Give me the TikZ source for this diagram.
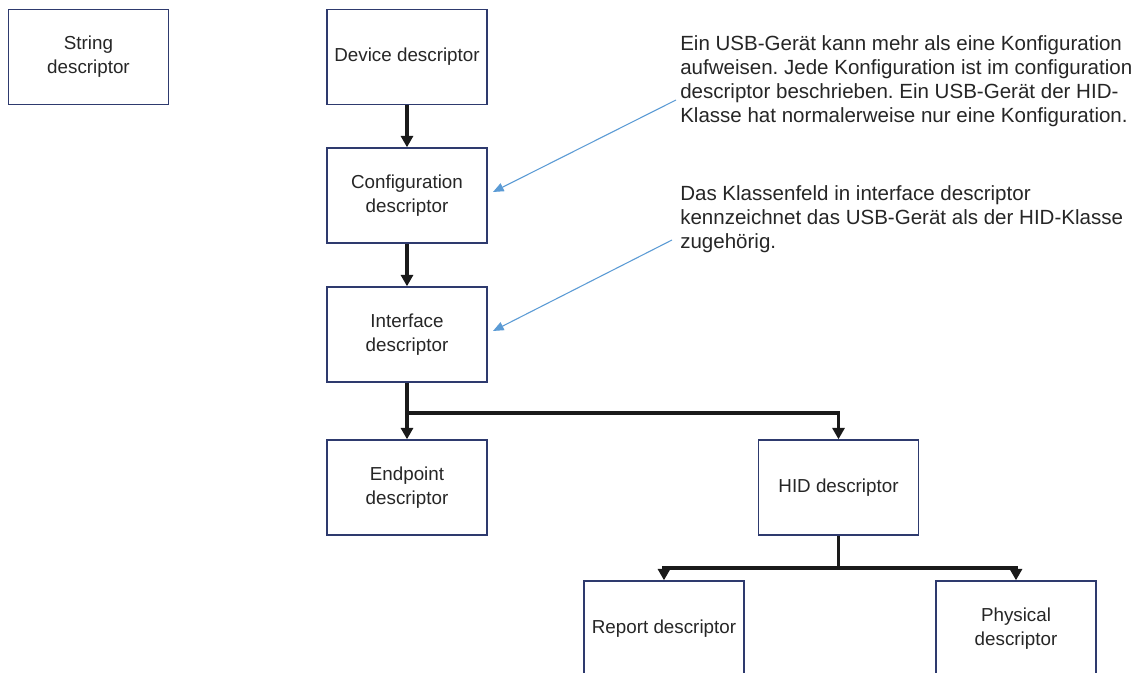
\documentclass[tikz,border=0pt]{standalone}
\usepackage{fontspec}
\setmainfont{Liberation Sans}
\usetikzlibrary{arrows.meta}
\definecolor{boxline}{HTML}{2E3A6E}
\definecolor{txt}{HTML}{262626}
\definecolor{note}{HTML}{5B9BD5}
\definecolor{conncol}{HTML}{1A1A1A}
\begin{document}
\frenchspacing
\begin{tikzpicture}[x=0.75pt,y=-0.75pt,
  dbox/.style={draw=boxline,line width=1.1pt,minimum width=120pt,minimum height=71.25pt,
    align=center,text=txt,font=\fontsize{14.1pt}{18pt}\selectfont,inner sep=0pt},
  conn/.style={draw=conncol,line width=2.8pt,-{Triangle[length=8.5pt,width=9pt]}},
  plain/.style={draw=conncol,line width=2.8pt},
  notearrow/.style={draw=note,line width=0.8pt,-{Triangle[length=8pt,width=6.5pt]}},
  notetext/.style={anchor=north west,inner sep=0pt,align=left,text=txt,
    font=\fontsize{15.4pt}{18pt}\selectfont}]
\useasboundingbox (0,0) rectangle (1139,673);
\fill[white] (0,0) rectangle (1139,673);
\node[dbox] (str) at (88.5,57) {String\\descriptor};
\node[dbox] (dev) at (407,57) {Device descriptor};
\node[dbox] (conf) at (407,195.5) {Configuration\\descriptor};
\node[dbox] (intf) at (407,334.5) {Interface\\descriptor};
\node[dbox] (ep) at (407,487.5) {Endpoint\\descriptor};
\node[dbox] (hid) at (838.5,487.5) {HID descriptor};
\node[dbox] (rep) at (664,628.5) {Report descriptor};
\node[dbox] (phys) at (1016,628.5) {Physical\\descriptor};
\draw[conn] (dev) -- (conf);
\draw[conn] (conf) -- (intf);
\draw[conn] (intf) -- (ep);
\coordinate (split1) at (407,413);
\draw[conn] (split1) -| (hid.north);
\coordinate (split2) at (838.5,568);
\draw[plain] (hid.south) -- (split2);
\draw[conn] (split2) -| (rep.north);
\draw[conn] (split2) -| (phys.north);
\node[notetext] (n1) at (680,35) {Ein USB-Gerät kann mehr als eine Konfiguration\\aufweisen. Jede Konfiguration ist im configuration\\descriptor beschrieben. Ein USB-Gerät der HID-\\Klasse hat normalerweise nur eine Konfiguration.};
\node[notetext] (n2) at (680,185) {Das Klassenfeld in interface descriptor\\kennzeichnet das USB-Gerät als der HID-Klasse\\zugehörig.};
\coordinate (a1s) at (676,100);
\coordinate (a1e) at (493,192);
\coordinate (a2s) at (672,240);
\coordinate (a2e) at (493,331);
\draw[notearrow] (a1s) -- (a1e);
\draw[notearrow] (a2s) -- (a2e);
\end{tikzpicture}
\end{document}
